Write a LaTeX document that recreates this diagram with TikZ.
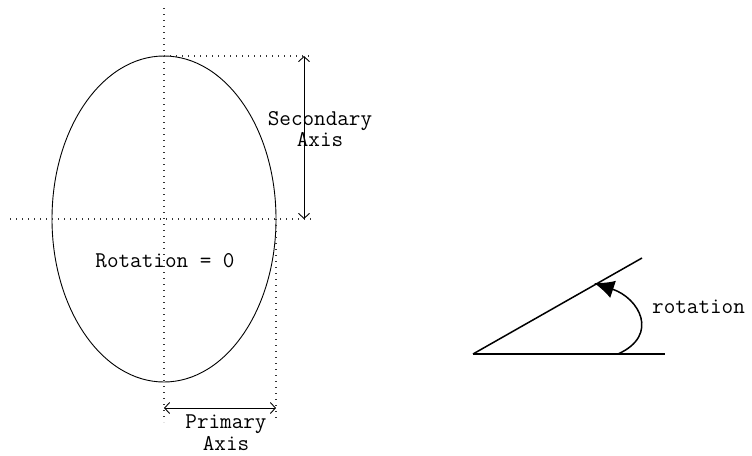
\documentclass[tikz,border=0pt]{standalone}
\usepackage{fontspec}
\usetikzlibrary{arrows.meta}
\begin{document}
\begin{tikzpicture}[x=1pt,y=-1pt,
  guide/.style={line width=1.1pt,dash pattern=on 1.2pt off 4.8pt,draw=black!80},
  dimline/.style={line width=0.9pt,{Straight Barb[length=5pt,width=11pt]}-{Straight Barb[length=5pt,width=11pt]}},
  lbl/.style={font=\ttfamily\fontsize{22.5}{21.5}\selectfont,align=center,inner sep=0pt},
  thick line/.style={line width=1.5pt}]
\useasboundingbox (0,0) rectangle (752,455);
% ellipse
\coordinate (c) at (164,219);
\draw[line width=0.9pt] (c) ellipse [x radius=112, y radius=163];
% guides
\coordinate (vtop) at (164,8);
\coordinate (vbot) at (164,422);
\coordinate (hleft) at (10,219);
\coordinate (hright) at (313,219);
\coordinate (ttop) at (164,56);
\coordinate (tright) at (313,56);
\coordinate (rtop) at (276,219);
\coordinate (rbot) at (276,422);
\draw[guide] (vtop) -- (vbot);
\draw[guide] (hleft) -- (hright);
\draw[guide] (ttop) -- (tright);
\draw[guide] (rtop) -- (rbot);
% dimension arrows
\coordinate (sa) at (304,56);
\coordinate (sb) at (304,219);
\draw[dimline] (sa) -- (sb);
\coordinate (pa) at (164,408);
\coordinate (pb) at (276,408);
\draw[dimline] (pa) -- (pb);
% labels
\node[lbl,anchor=north] (sec) at (320,111) {Secondary\\Axis};
\node[lbl,anchor=north] (prim) at (226,415) {Primary\\Axis};
\node[lbl,anchor=base] (rot0) at (165,267) {Rotation = 0};
% rotation figure
\coordinate (o) at (473,354);
\coordinate (base) at (665,354);
\coordinate (slant) at (642,258);
\draw[thick line] (o) -- (base);
\draw[thick line] (o) -- (slant);
\coordinate (arcs) at (618,354);
\coordinate (arce) at (594,283);
\draw[thick line,-{Latex[length=20pt,width=18pt]}] (arcs) .. controls (660,335) and (639,298) .. (arce);
\node[lbl,anchor=base west] (rotl) at (652,313) {rotation};
\end{tikzpicture}
\end{document}
